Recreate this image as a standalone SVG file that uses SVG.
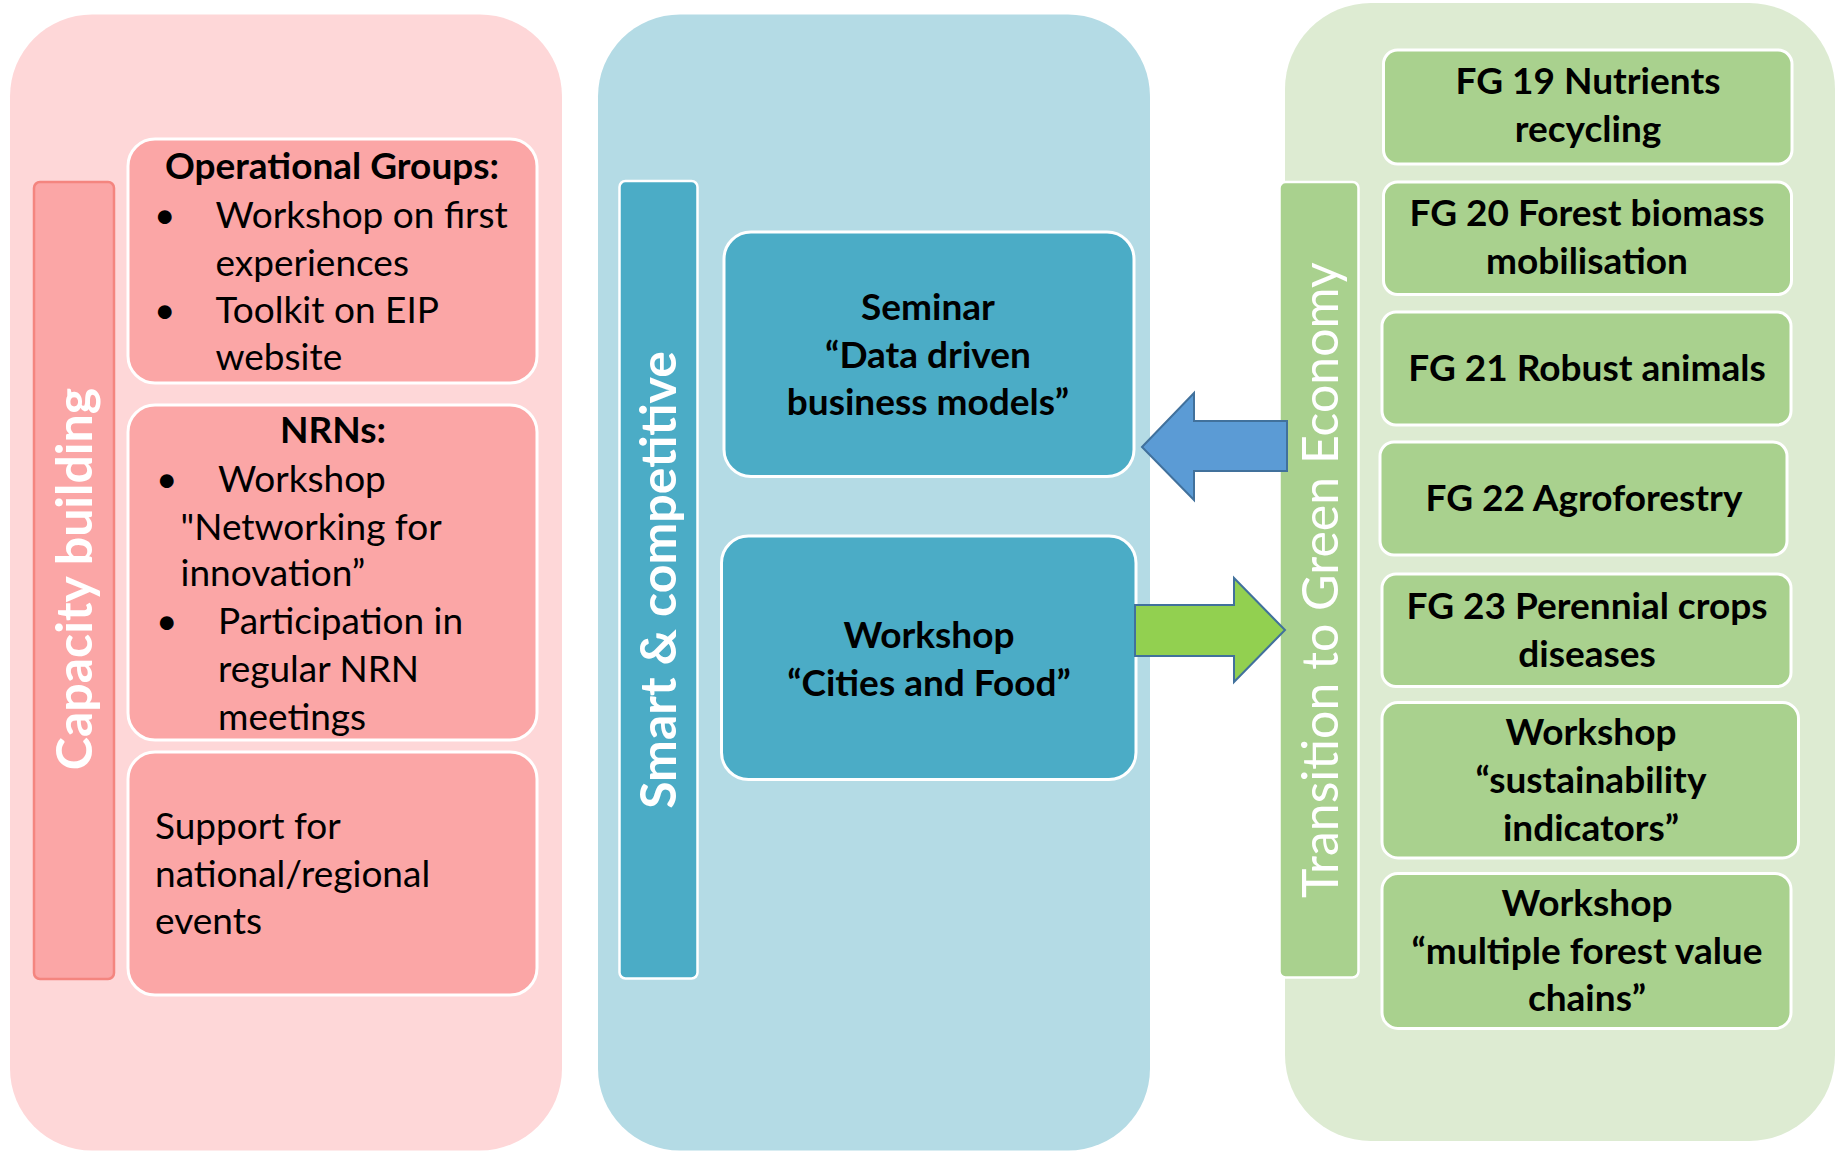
<svg xmlns="http://www.w3.org/2000/svg" width="1841" height="1151" viewBox="0 0 1841 1151">
<style>
  text { font-family: Lato, "Open Sans", "Liberation Sans", sans-serif; fill: #000; }
  .t { font-size: 37px; }
  .b { font-size: 37px; font-weight: bold; }
  .c { text-anchor: middle; }
  .vt { font-size: 50px; fill: #fff; text-anchor: middle; }
  .pbox { fill: #FBA6A6; stroke: #fff; stroke-width: 3; }
  .bbox { fill: #4BACC6; stroke: #fff; stroke-width: 3; }
  .gbox { fill: #A9D18E; stroke: #fff; stroke-width: 3; }
</style>
<rect width="1841" height="1151" fill="#fff"/>

<g id="panel-capacity">
  <rect x="10" y="14.5" width="552" height="1136" rx="82" fill="#FED7D8"/>
  <rect x="34" y="182" width="80" height="797" rx="6" fill="#FBA6A6" stroke="#F4857F" stroke-width="2.5"/>
  <text class="vt" font-weight="bold" transform="translate(92,579) rotate(-90)">Capacity building</text>
</g>
<g id="node-og">
  <rect class="pbox" x="128" y="139" width="409" height="244" rx="27"/>
  <text class="b c" x="332" y="179">Operational Groups:</text>
  <text class="t" x="154" y="228">•</text>
  <text class="t" x="215.5" y="228">Workshop on first</text>
  <text class="t" x="215.5" y="275.5">experiences</text>
  <text class="t" x="154" y="323">•</text>
  <text class="t" x="215.5" y="323">Toolkit on EIP</text>
  <text class="t" x="215.5" y="370">website</text>
</g>
<g id="node-nrn">
  <rect class="pbox" x="128" y="405" width="409" height="335" rx="27"/>
  <text class="b c" x="333" y="443">NRNs:</text>
  <text class="t" x="156" y="492">•</text>
  <text class="t" x="218" y="492">Workshop</text>
  <text class="t" x="180.5" y="539.5">"Networking for</text>
  <text class="t" x="180.5" y="586">innovation”</text>
  <text class="t" x="156" y="634">•</text>
  <text class="t" x="218" y="634">Participation in</text>
  <text class="t" x="218" y="682">regular NRN</text>
  <text class="t" x="218" y="730">meetings</text>
</g>
<g id="node-support">
  <rect class="pbox" x="128" y="752" width="409" height="243" rx="27"/>
  <text class="t" x="155" y="839">Support for</text>
  <text class="t" x="155" y="887">national/regional</text>
  <text class="t" x="155" y="934">events</text>
</g>

<g id="panel-smart">
  <rect x="598" y="14.5" width="552" height="1136" rx="82" fill="#B4DBE5"/>
  <rect x="619.5" y="181" width="78" height="797.5" rx="6" fill="#4BACC6" stroke="#fff" stroke-width="2.5"/>
  <text class="vt" font-weight="bold" transform="translate(676,580) rotate(-90)">Smart &amp; competitive</text>
</g>
<g id="node-seminar">
  <rect class="bbox" x="724" y="232" width="410" height="244.5" rx="27"/>
  <text class="b c" x="928" y="319.5">Seminar</text>
  <text class="b c" x="928" y="367.5">“Data driven</text>
  <text class="b c" x="928" y="415">business models”</text>
</g>
<g id="node-cities">
  <rect class="bbox" x="721.5" y="536" width="414.5" height="243.5" rx="27"/>
  <text class="b c" x="929" y="647.5">Workshop</text>
  <text class="b c" x="929" y="695.5">“Cities and Food”</text>
</g>

<g id="panel-green">
  <rect x="1285" y="3" width="550" height="1138" rx="86" fill="#DDEBD2"/>
  <rect x="1279.5" y="182" width="79" height="795.5" rx="6" fill="#A9D18E" stroke="#fff" stroke-width="2.5"/>
  <text class="vt" transform="translate(1338,580) rotate(-90)">Transition to Green Economy</text>
</g>
<g id="node-fg19">
  <rect class="gbox" x="1383.5" y="50" width="408.5" height="114" rx="14"/>
  <text class="b c" x="1588" y="94">FG 19 Nutrients</text>
  <text class="b c" x="1588" y="141.5">recycling</text>
</g>
<g id="node-fg20">
  <rect class="gbox" x="1383.5" y="182" width="408" height="112.5" rx="14"/>
  <text class="b c" x="1587" y="226">FG 20 Forest biomass</text>
  <text class="b c" x="1587" y="273.5">mobilisation</text>
</g>
<g id="node-fg21">
  <rect class="gbox" x="1382" y="312" width="409" height="113" rx="14"/>
  <text class="b c" x="1587" y="381">FG 21 Robust animals</text>
</g>
<g id="node-fg22">
  <rect class="gbox" x="1380" y="442" width="407" height="113" rx="14"/>
  <text class="b c" x="1584" y="511">FG 22 Agroforestry</text>
</g>
<g id="node-fg23">
  <rect class="gbox" x="1382" y="574" width="409" height="112.5" rx="14"/>
  <text class="b c" x="1587" y="619">FG 23 Perennial crops</text>
  <text class="b c" x="1587" y="666.5">diseases</text>
</g>
<g id="node-sustain">
  <rect class="gbox" x="1382" y="702.5" width="416.5" height="155.5" rx="16"/>
  <text class="b c" x="1591" y="745">Workshop</text>
  <text class="b c" x="1591" y="793">“sustainability</text>
  <text class="b c" x="1591" y="841">indicators”</text>
</g>
<g id="node-forest">
  <rect class="gbox" x="1382" y="873.5" width="409" height="155" rx="16"/>
  <text class="b c" x="1587" y="915.5">Workshop</text>
  <text class="b c" x="1587" y="963.5">“multiple forest value</text>
  <text class="b c" x="1587" y="1011">chains”</text>
</g>

<g id="connectors">
  <polygon points="1142,447 1194,393 1194,421 1287,421 1287,471 1194,471 1194,500" fill="#5B9BD5" stroke="#41719C" stroke-width="2"/>
  <polygon points="1135,605 1234,605 1234,578 1285,630 1234,682 1234,656 1135,656" fill="#92D050" stroke="#41719C" stroke-width="2"/>
</g>
</svg>
